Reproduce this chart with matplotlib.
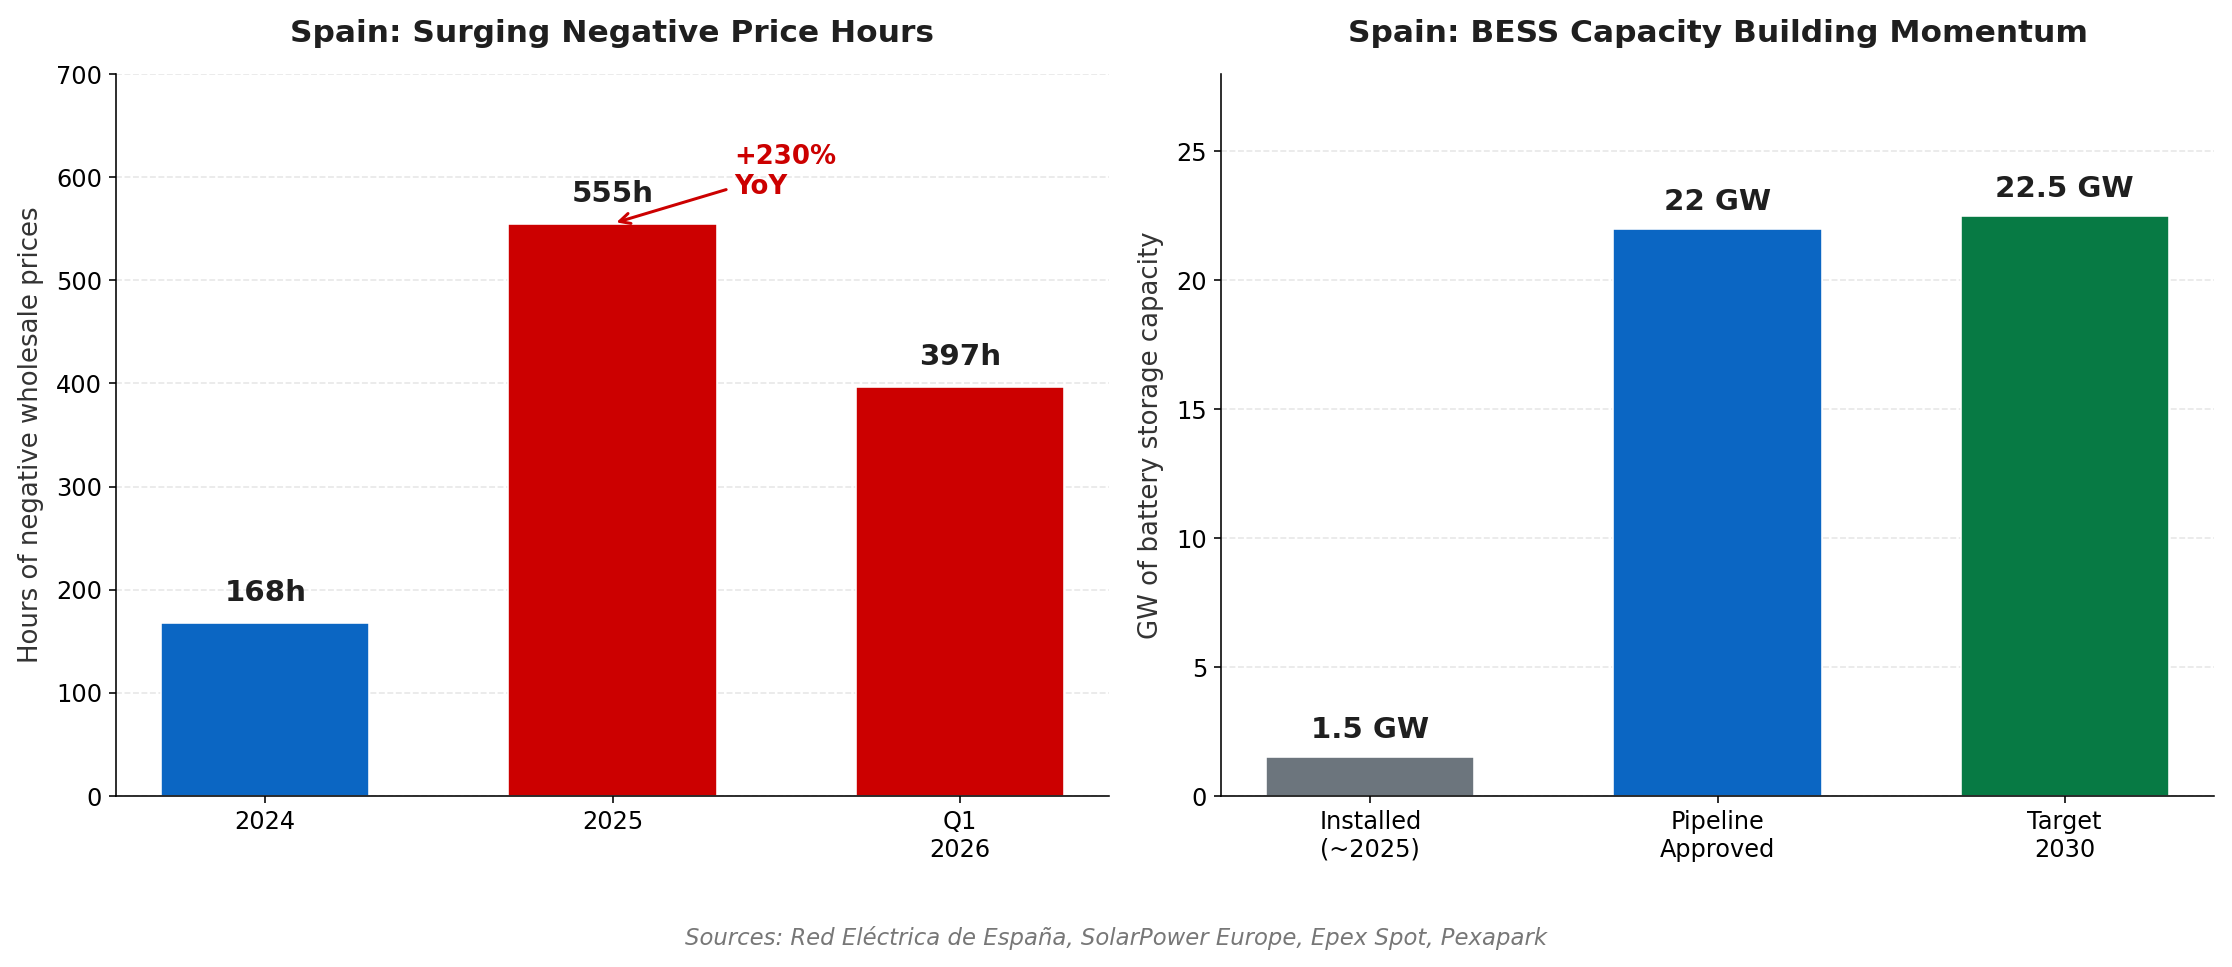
import matplotlib
matplotlib.use("Agg")
import matplotlib.pyplot as plt

# Data
neg_categories = ["2024", "2025", "Q1\n2026"]
neg_hours = [168, 555, 397]
neg_labels = ["168h", "555h", "397h"]
neg_colors = ["#0B66C3", "#CC0000", "#CC0000"]

bess_categories = ["Installed\n(~2025)", "Pipeline\nApproved", "Target\n2030"]
bess_gw = [1.5, 22, 22.5]
bess_labels = ["1.5 GW", "22 GW", "22.5 GW"]
bess_colors = ["#6C757D", "#0B66C3", "#077A44"]

yoy_text = "+230%\nYoY"
sources = "Sources: Red Eléctrica de España, SolarPower Europe, Epex Spot, Pexapark"

plt.rcParams['font.family'] = ['DejaVu Sans']

W, H = 2232, 967
DPI = 144
fig = plt.figure(figsize=(W / DPI, H / DPI), dpi=DPI)

ax1 = fig.add_axes([116 / W, 1 - 796 / H, 993 / W, 722 / H])
ax2 = fig.add_axes([1221 / W, 1 - 796 / H, 993 / W, 722 / H])

title_color = "#1f1f1f"
label_color = "#1f1f1f"


def style(ax):
    ax.spines['top'].set_visible(False)
    ax.spines['right'].set_visible(False)
    ax.set_axisbelow(True)
    ax.grid(axis='y', linestyle='--', alpha=0.3)
    ax.tick_params(labelsize=12)


# Left chart
x1 = range(len(neg_categories))
ax1.bar(x1, neg_hours, width=0.6, color=neg_colors, edgecolor='white', linewidth=0.8)
ax1.set_xticks(list(x1))
ax1.set_xticklabels(neg_categories)
ax1.set_ylim(0, 700)
ax1.set_ylabel("Hours of negative wholesale prices", fontsize=13, color="#333333",
               labelpad=6)
ax1.set_title("Spain: Surging Negative Price Hours", fontsize=15.6, fontweight='bold',
              color=title_color, pad=16)
for xi, v, lab in zip(x1, neg_hours, neg_labels):
    ax1.text(xi, v + 15, lab, ha='center', va='bottom', fontsize=14.6,
             fontweight='bold', color=label_color)
ax1.annotate(yoy_text, xy=(1.0, neg_hours[1]), xytext=(1.35, 605),
             fontsize=13, fontweight='bold', color="#CC0000", ha='left', va='center',
             arrowprops=dict(arrowstyle='->', color="#CC0000", lw=1.5))
style(ax1)

# Right chart
x2 = range(len(bess_categories))
ax2.bar(x2, bess_gw, width=0.6, color=bess_colors, edgecolor='white', linewidth=0.8)
ax2.set_xticks(list(x2))
ax2.set_xticklabels(bess_categories)
ax2.set_ylim(0, 28)
ax2.set_ylabel("GW of battery storage capacity", fontsize=13, color="#333333",
               labelpad=6)
ax2.set_title("Spain: BESS Capacity Building Momentum", fontsize=15.6, fontweight='bold',
              color=title_color, pad=16)
for xi, v, lab in zip(x2, bess_gw, bess_labels):
    ax2.text(xi, v + 0.5, lab, ha='center', va='bottom', fontsize=14.6,
             fontweight='bold', color=label_color)
style(ax2)

fig.text(0.5, 1 - 938 / H, sources, ha='center', va='center', fontsize=11.4,
         style='italic', color="#777777")

fig.savefig("out.png", dpi=DPI, facecolor='white')
